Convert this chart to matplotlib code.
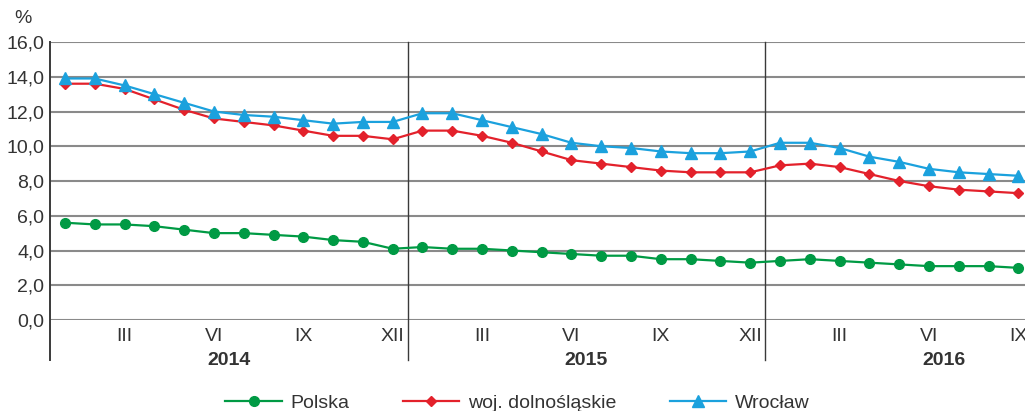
import matplotlib
matplotlib.use("Agg")
import matplotlib.pyplot as plt
import matplotlib.transforms as mtransforms

plt.rcParams["font.family"] = ["Liberation Sans", "DejaVu Sans"]

# months Jan 2014 - Sep 2016
years = ["2014", "2015", "2016"]
month_labels = ["III", "VI", "IX", "XII"]

polska = [5.6, 5.5, 5.5, 5.4, 5.2, 5.0, 5.0, 4.9, 4.8, 4.6, 4.5, 4.1,
          4.2, 4.1, 4.1, 4.0, 3.9, 3.8, 3.7, 3.7, 3.5, 3.5, 3.4, 3.3,
          3.4, 3.5, 3.4, 3.3, 3.2, 3.1, 3.1, 3.1, 3.0]
dolnoslaskie = [13.6, 13.6, 13.3, 12.7, 12.1, 11.6, 11.4, 11.2, 10.9, 10.6, 10.6, 10.4,
                10.9, 10.9, 10.6, 10.2, 9.7, 9.2, 9.0, 8.8, 8.6, 8.5, 8.5, 8.5,
                8.9, 9.0, 8.8, 8.4, 8.0, 7.7, 7.5, 7.4, 7.3]
wroclaw = [13.9, 13.9, 13.5, 13.0, 12.5, 12.0, 11.8, 11.7, 11.5, 11.3, 11.4, 11.4,
           11.9, 11.9, 11.5, 11.1, 10.7, 10.2, 10.0, 9.9, 9.7, 9.6, 9.6, 9.7,
           10.2, 10.2, 9.9, 9.4, 9.1, 8.7, 8.5, 8.4, 8.3]

GREEN = "#009a44"
RED = "#e3212b"
BLUE = "#1ba1dd"
GRID = "#8a8a8a"
TEXT = "#333333"
FS = 14

fig = plt.figure(figsize=(10.25, 4.11), dpi=100)
ax = fig.add_axes([0.0488, 0.2214, 0.9512, 0.6764])

x = list(range(len(polska)))
ax.plot(x, polska, color=GREEN, lw=1.6, marker="o", ms=7, label="Polska", clip_on=False, zorder=4)
ax.plot(x, dolnoslaskie, color=RED, lw=1.6, marker="D", ms=5.5, label="woj. dolnośląskie", clip_on=False, zorder=4)
ax.plot(x, wroclaw, color=BLUE, lw=1.6, marker="^", ms=8, label="Wrocław", clip_on=False, zorder=4)

ax.set_xlim(-0.5, 32.22)
ax.set_ylim(0, 16)
ax.set_yticks(range(0, 17, 2))
ax.set_yticklabels([f"{v},0" for v in range(0, 17, 2)], fontsize=FS, color=TEXT)
ax.yaxis.grid(True, color=GRID, lw=1.5)
ax.set_axisbelow(True)
for s in ax.spines.values():
    s.set_visible(False)
ax.tick_params(axis="y", length=0, pad=4)

# month ticks
xt, xl = [], []
for yi in range(3):
    for mi, lab in enumerate(month_labels):
        idx = yi * 12 + 2 + mi * 3
        if idx < len(polska):
            xt.append(idx)
            xl.append(lab)
ax.set_xticks(xt)
ax.set_xticklabels(xl, fontsize=FS, color=TEXT)
ax.tick_params(axis="x", length=0, pad=6)

trans = mtransforms.blended_transform_factory(ax.transData, ax.transAxes)
for xv in [-0.5, 11.5, 23.5]:
    ax.plot([xv, xv], [1, -0.144], color="#3a3a3a", lw=1.0 if xv > 0 else 1.4,
            transform=trans, clip_on=False, zorder=2)
for yi, yr in enumerate(years):
    ax.text(yi * 12 + 5.5, -0.147, yr, transform=trans, ha="center", va="center",
            fontsize=FS, fontweight="bold", color=TEXT)

fig.text(0.0135, 0.955, "%", fontsize=FS, color=TEXT, ha="left", va="center")

ax.legend(loc="center", bbox_to_anchor=(0.505, 0.02), bbox_transform=fig.transFigure,
          ncol=3, frameon=False, fontsize=FS, handlelength=2.9, handletextpad=0.45,
          columnspacing=2.75, labelcolor=TEXT)

fig.savefig("out.png", dpi=100)
